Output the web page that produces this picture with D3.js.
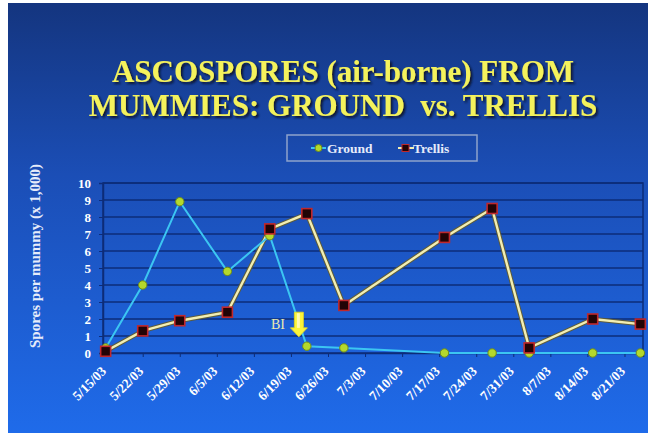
<!DOCTYPE html>
<html>
<head>
<meta charset="utf-8">
<script src="https://cdn.jsdelivr.net/npm/d3@7"></script>
<style>
  html, body { margin: 0; padding: 0; background: #ffffff; }
  svg { display: block; }
  text { font-family: "Liberation Serif", "Times New Roman", serif; }
</style>
</head>
<body>
<div id="chart"></div>
<script>
// sampling dates and spore counts (x 1,000)
const sampleDates = ["5/15/03", "5/22/03", "5/29/03", "6/7/03", "6/15/03", "6/22/03",
                     "6/29/03", "7/18/03", "7/27/03", "8/3/03", "8/15/03", "8/24/03"];
const groundValues = [0.3, 4.0, 8.9, 4.8, 6.9, 0.4, 0.3, 0, 0, 0, 0, 0];
const trellisValues = [0.1, 1.3, 1.9, 2.4, 7.3, 8.2, 2.8, 6.8, 8.5, 0.3, 2.0, 1.7];

// axis labels
const xTickLabels = ["5/15/03", "5/22/03", "5/29/03", "6/5/03", "6/12/03", "6/19/03", "6/26/03",
                     "7/3/03", "7/10/03", "7/17/03", "7/24/03", "7/31/03", "8/7/03", "8/14/03", "8/21/03"];
const yTickValues = [0, 1, 2, 3, 4, 5, 6, 7, 8, 9, 10];

// bloom (BI) marker
const bloomDate = "6/20/03";
const bloomFrom = 2.4, bloomTo = 0.95;

const width = 648, height = 440;
const margin = {left: 103, right: 5, top: 183, bottom: 87};
const plotW = width - margin.left - margin.right;   // 540
const plotH = height - margin.top - margin.bottom;  // 170

const parse = d3.timeParse("%m/%d/%y");
const hour = 3600 * 1000;

const svg = d3.select("#chart")
    .append("svg")
    .attr("width", width)
    .attr("height", height);

// slide background
const defs = svg.append("defs");
const grad = defs.append("linearGradient")
    .attr("id", "bg")
    .attr("x1", 0).attr("y1", 0).attr("x2", 0).attr("y2", 1);
grad.append("stop").attr("offset", "0%").attr("stop-color", "#14357f");
grad.append("stop").attr("offset", "40%").attr("stop-color", "#1b4eb6");
grad.append("stop").attr("offset", "100%").attr("stop-color", "#1f6bea");

defs.append("filter")
    .attr("id", "shadow")
    .attr("x", "-5%").attr("y", "-20%").attr("width", "110%").attr("height", "140%")
    .append("feDropShadow")
    .attr("dx", 2).attr("dy", 2)
    .attr("stdDeviation", 0.8)
    .attr("flood-color", "#0c1430")
    .attr("flood-opacity", 1);

svg.append("rect")
    .attr("x", 8).attr("y", 3)
    .attr("width", width - 8).attr("height", 430)
    .attr("fill", "url(#bg)");

// title
const titleLines = ["ASCOSPORES (air-borne) FROM", "MUMMIES: GROUND\u00a0\u00a0vs. TRELLIS"];
svg.append("g")
    .attr("filter", "url(#shadow)")
    .selectAll("text")
    .data(titleLines)
    .enter()
    .append("text")
    .attr("x", 343)
    .attr("y", (d, i) => 82 + i * 34)
    .attr("text-anchor", "middle")
    .attr("font-size", 31)
    .attr("font-weight", "bold")
    .attr("fill", "#f4f25c")
    .text(d => d);

// scales
const x = d3.scaleTime()
    .domain([new Date(parse("5/15/03") - 12 * hour), new Date(+parse("8/24/03") + 12 * hour)])
    .range([0, plotW]);
const y = d3.scaleLinear()
    .domain([0, 10])
    .range([plotH, 0]);

const g = svg.append("g")
    .attr("transform", `translate(${margin.left}, ${margin.top})`);

// gridlines
g.selectAll(".grid")
    .data(yTickValues.slice(1))
    .enter()
    .append("line")
    .attr("x1", 0).attr("x2", plotW)
    .attr("y1", d => y(d)).attr("y2", d => y(d))
    .attr("stroke", "#0d2c78")
    .attr("stroke-width", 1.6);

g.append("rect")
    .attr("width", plotW).attr("height", plotH)
    .attr("fill", "none")
    .attr("stroke", "#0d2c78")
    .attr("stroke-width", 1.5);

// y axis
const yAxis = g.append("g")
    .call(d3.axisLeft(y).tickValues(yTickValues).tickSize(4).tickPadding(8));
yAxis.select(".domain").attr("stroke", "#0d2c78").attr("stroke-width", 1.5);
yAxis.selectAll(".tick line").attr("stroke", "#0d2c78");
yAxis.selectAll("text")
    .attr("fill", "#ffffff")
    .attr("font-size", 13)
    .attr("font-weight", "bold")
    .style("font-family", "'Liberation Serif', serif");

// x axis
const xTicks = xTickLabels.map(parse);
const xAxis = g.append("g")
    .attr("transform", `translate(0, ${plotH})`)
    .call(d3.axisBottom(x).tickValues(xTicks).tickSize(4).tickFormat((d, i) => xTickLabels[i]));
xAxis.select(".domain").attr("stroke", "#0d2c78").attr("stroke-width", 1.5);
xAxis.selectAll(".tick line").attr("stroke", "#0d2c78");
xAxis.selectAll("text")
    .attr("fill", "#ffffff")
    .attr("font-size", 13.5)
    .attr("font-weight", "bold")
    .style("font-family", "'Liberation Serif', serif")
    .attr("text-anchor", "end")
    .attr("y", 0)
    .attr("dy", 0)
    .attr("transform", "translate(1, 19) rotate(-45)");

// y axis title
svg.append("text")
    .attr("transform", "translate(40, 256) rotate(-90)")
    .attr("text-anchor", "middle")
    .attr("font-size", 15)
    .attr("font-weight", "bold")
    .attr("fill", "#e6ecfa")
    .text("Spores per mummy (x 1,000)");

// series
const ground = sampleDates.map((d, i) => ({date: parse(d), value: groundValues[i]}));
const trellis = sampleDates.map((d, i) => ({date: parse(d), value: trellisValues[i]}));

const line = d3.line()
    .x(d => x(d.date))
    .y(d => y(d.value));

g.append("path")
    .datum(trellis)
    .attr("d", line)
    .attr("fill", "none")
    .attr("stroke", "#5d5c3c")
    .attr("stroke-width", 4.5);
g.append("path")
    .datum(trellis)
    .attr("d", line)
    .attr("fill", "none")
    .attr("stroke", "#f2eeb2")
    .attr("stroke-width", 2.4);

g.append("path")
    .datum(ground)
    .attr("d", line)
    .attr("fill", "none")
    .attr("stroke", "#3cc6f2")
    .attr("stroke-width", 2);

g.selectAll(".gdot")
    .data(ground)
    .enter()
    .append("circle")
    .attr("class", "gdot")
    .attr("cx", d => x(d.date))
    .attr("cy", d => y(d.value))
    .attr("r", 4.2)
    .attr("fill", "#b4d82c")
    .attr("stroke", "#6f8c1a")
    .attr("stroke-width", 1);

g.selectAll(".tsq")
    .data(trellis)
    .enter()
    .append("rect")
    .attr("class", "tsq")
    .attr("x", d => x(d.date) - 5)
    .attr("y", d => y(d.value) - 5)
    .attr("width", 10).attr("height", 10)
    .attr("fill", "#220406")
    .attr("stroke", "#c0282c")
    .attr("stroke-width", 1.6);

// BI arrow
const ax = x(new Date(+parse(bloomDate) + 12 * hour));
const aTop = y(bloomFrom), aTip = y(bloomTo);
const headH = 9;
g.append("path")
    .attr("d", `M${ax - 4.5},${aTop} L${ax + 4.5},${aTop} L${ax + 4.5},${aTip - headH}
                L${ax + 8.5},${aTip - headH} L${ax},${aTip} L${ax - 8.5},${aTip - headH}
                L${ax - 4.5},${aTip - headH} Z`)
    .attr("fill", "#fbf43a")
    .attr("stroke", "#e8d820")
    .attr("stroke-width", 0.8);
g.append("rect")
    .attr("x", ax - 2).attr("y", aTop + 1)
    .attr("width", 3).attr("height", aTip - headH - aTop - 1)
    .attr("fill", "#fffbb0");
g.append("text")
    .attr("x", ax - 14)
    .attr("y", (aTop + aTip) / 2 + 4)
    .attr("text-anchor", "end")
    .attr("font-size", 14)
    .attr("fill", "#ecebb0")
    .text("BI");

// legend
const legend = svg.append("g");
legend.append("rect")
    .attr("x", 287).attr("y", 135)
    .attr("width", 190).attr("height", 26)
    .attr("fill", "none")
    .attr("stroke", "#8ea3cc")
    .attr("stroke-width", 1.5);

legend.append("line")
    .attr("x1", 311).attr("x2", 326).attr("y1", 148).attr("y2", 148)
    .attr("stroke", "#3cc6f2").attr("stroke-width", 2);
legend.append("circle")
    .attr("cx", 318.5).attr("cy", 148).attr("r", 3.5)
    .attr("fill", "#b4d82c").attr("stroke", "#6f8c1a");
legend.append("text")
    .attr("x", 327).attr("y", 153)
    .attr("font-size", 13.5).attr("font-weight", "bold")
    .attr("fill", "#e6ecfa")
    .text("Ground");

legend.append("line")
    .attr("x1", 398).attr("x2", 414).attr("y1", 148).attr("y2", 148)
    .attr("stroke", "#f2eeb2").attr("stroke-width", 2);
legend.append("rect")
    .attr("x", 402).attr("y", 144.5).attr("width", 7).attr("height", 7)
    .attr("fill", "#220406").attr("stroke", "#c0282c");
legend.append("text")
    .attr("x", 413).attr("y", 153)
    .attr("font-size", 13.5).attr("font-weight", "bold")
    .attr("fill", "#e6ecfa")
    .text("Trellis");
</script>
</body>
</html>
